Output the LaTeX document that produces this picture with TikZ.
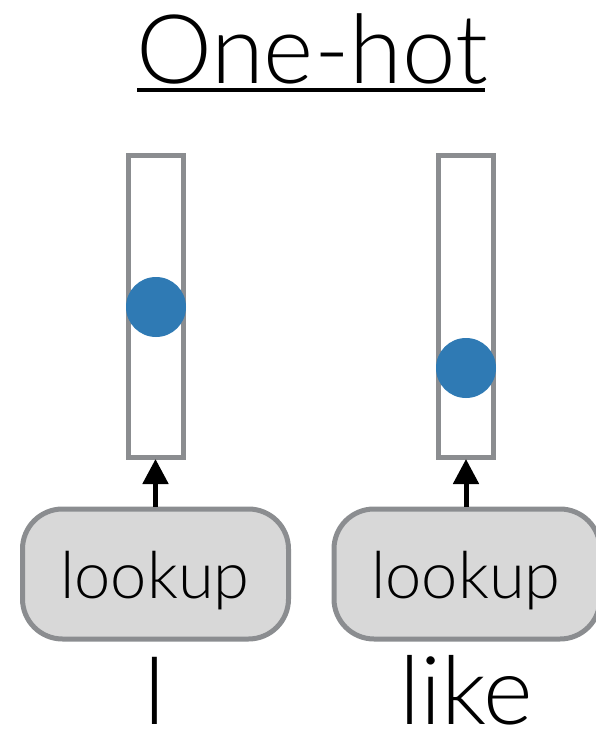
\documentclass[tikz,border=0pt]{standalone}
\usepackage{fontspec}
\setmainfont{Lato Light}
\usetikzlibrary{arrows.meta}
\definecolor{framegray}{HTML}{8B8D90}
\definecolor{boxfill}{HTML}{D8D8D8}
\definecolor{dotblue}{HTML}{2F7AB4}
\tikzset{
  vecbox/.style={draw=framegray, line width=5pt, fill=white, minimum width=55pt, minimum height=302pt, inner sep=0pt},
  hotdot/.style={circle, fill=dotblue, minimum size=60pt, inner sep=0pt},
  lookupbox/.style={draw=framegray, fill=boxfill, line width=5pt, rounded corners=40pt, minimum width=266pt, minimum height=130pt, inner sep=0pt},
  boxlabel/.style={anchor=base, inner sep=0pt, font=\fontsize{65}{70}\selectfont},
  word/.style={anchor=base, inner sep=0pt, font=\fontsize{95}{100}\selectfont},
  feed/.style={line width=5pt, -{Triangle[width=25pt,length=25pt]}, shorten >=-1pt}
}
\begin{document}
\begin{tikzpicture}[x=1pt, y=-1pt]
  \useasboundingbox (0,0) rectangle (595,730);
  % title with underline
  \node[word, font=\fontsize{96}{100}\selectfont] (title) at (312,84) {One-hot};
  \draw[line width=4pt] (137,90) coordinate (ulA) -- (485,90) coordinate (ulB);
  % one-hot vectors
  \node[vecbox] (v1) at (155.5,306.5) {};
  \node[vecbox] (v2) at (466,306.5) {};
  \node[hotdot] (d1) at (156,307) {};
  \node[hotdot] (d2) at (466,368) {};
  % lookup blocks
  \node[lookupbox] (l1) at (155.5,574) {};
  \node[lookupbox] (l2) at (467,574) {};
  \node[boxlabel] (t1) at (155,598) {lookup};
  \node[boxlabel] (t2) at (466,598) {lookup};
  % input words
  \node[word] (w1) at (155,724) {I};
  \node[word] (w2) at (466,724) {like};
  % arrows from each lookup up to its vector
  \draw[feed] (v1.south |- l1.north) -- (v1.south);
  \draw[feed] (v2.south |- l2.north) -- (v2.south);
\end{tikzpicture}
\end{document}
